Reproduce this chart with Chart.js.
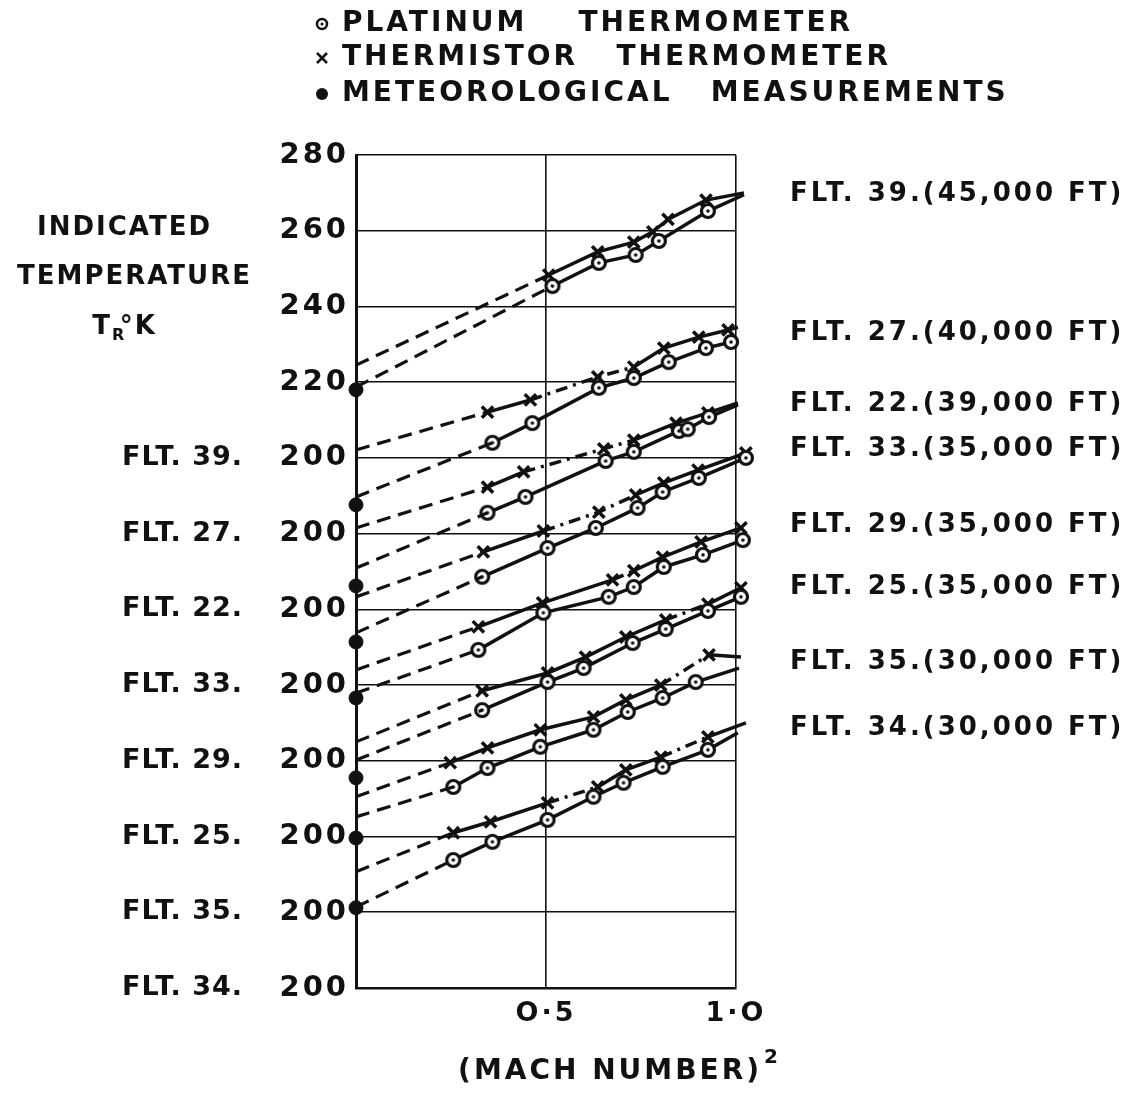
<!DOCTYPE html>
<html>
<head>
<meta charset="utf-8">
<script src="https://cdn.jsdelivr.net/npm/chart.js@4.4.1/dist/chart.umd.min.js"></script>
<style>
    html, body { margin: 0; padding: 0; background: #fff; }
    #wrap { width: 1127px; height: 1098px; }
</style>
</head>
<body>
<div id="wrap"><canvas id="chart" width="1127" height="1098"></canvas></div>
<script>
// Flights, top to bottom. Each flight's own 200 °K sits on a shifted grid line.
const flights   = ['39', '27', '22', '33', '29', '25', '35', '34'];
const altitudes = ['45,000', '40,000', '39,000', '35,000', '35,000', '35,000', '30,000', '30,000'];
const baseValues = [200, 180, 160, 140, 120, 100, 80, 60];

// Meteorological temperature and the extrapolated intercepts at (Mach)^2 = 0, °K
const metT       = [218.0, 207.6, 206.2, 211.4, 216.6, 215.5, 219.6, 221.2];
const platZeroT  = [218.7, 209.7, 210.9, 213.8, 217.9, 220.2, 225.2, 221.4];
const thermZeroT = [224.5, 222.1, 221.5, 223.3, 224.0, 225.0, 230.5, 230.7];

// Platinum thermometer readings
const platX = [
    [0.517, 0.639, 0.736, 0.797, 0.926],
    [0.359, 0.464, 0.639, 0.731, 0.823, 0.921, 0.987],
    [0.346, 0.446, 0.657, 0.731, 0.850, 0.873, 0.929],
    [0.332, 0.504, 0.631, 0.741, 0.807, 0.902, 1.026],
    [0.322, 0.493, 0.665, 0.731, 0.810, 0.913, 1.018],
    [0.332, 0.504, 0.599, 0.728, 0.815, 0.926, 1.013],
    [0.256, 0.346, 0.485, 0.625, 0.715, 0.807, 0.894],
    [0.256, 0.359, 0.504, 0.625, 0.704, 0.807, 0.926]
];
const platT = [
    [245.4, 251.5, 253.6, 257.3, 265.2],
    [224.0, 229.2, 238.5, 241.1, 245.3, 249.0, 250.6],
    [225.5, 229.7, 239.2, 241.6, 247.1, 247.6, 250.8],
    [228.6, 236.2, 241.5, 246.8, 251.0, 254.7, 260.0],
    [229.3, 239.1, 243.3, 245.9, 251.2, 254.4, 258.3],
    [233.4, 240.8, 244.5, 251.1, 254.8, 259.6, 263.3],
    [233.1, 238.1, 243.7, 248.2, 252.9, 256.6, 260.8],
    [233.8, 238.6, 244.4, 250.5, 254.2, 258.4, 262.9]
];
const platEnd = [[1.021, 269.5], [1.005, 251.5], [1.005, 254.0], [1.040, 260.8],
                 [1.098, 261.5], [1.030, 264.5], [1.008, 264.5], [1.005, 267.4]];

// Thermistor thermometer readings
const thermX = [
    [0.507, 0.636, 0.731, 0.781, 0.821, 0.921],
    [0.346, 0.459, 0.636, 0.731, 0.810, 0.902, 0.979],
    [0.346, 0.441, 0.652, 0.731, 0.842, 0.926],
    [0.335, 0.493, 0.639, 0.736, 0.810, 0.900, 1.026],
    [0.322, 0.491, 0.675, 0.731, 0.807, 0.908, 1.013],
    [0.332, 0.504, 0.604, 0.710, 0.815, 0.926, 1.013],
    [0.248, 0.346, 0.485, 0.625, 0.710, 0.802, 0.929],
    [0.256, 0.354, 0.504, 0.636, 0.710, 0.802, 0.926]
];
const thermT = [
    [248.3, 254.4, 257.0, 259.7, 263.0, 268.1],
    [232.1, 235.3, 241.4, 244.0, 249.0, 251.9, 253.8],
    [232.3, 236.3, 242.4, 244.7, 249.2, 251.9],
    [235.2, 240.7, 245.7, 250.2, 253.4, 256.8, 261.3],
    [235.4, 241.7, 247.8, 250.2, 253.8, 257.8, 261.5],
    [238.5, 243.2, 247.4, 252.7, 257.2, 261.4, 265.7],
    [239.5, 243.4, 248.2, 251.6, 256.1, 260.0, 268.0],
    [241.0, 243.9, 248.9, 253.1, 257.6, 261.0, 266.3]
];
const thermEnd = [[1.021, 270.0], [1.005, 254.5], [1.005, 254.5], [1.111, 264.0],
                  [1.087, 263.1], [1.084, 267.0], [1.013, 267.4], [1.026, 270.0]];

// Segments of the thermistor curves drawn chain-dotted
const thermDotSegs = [[], [1, 2], [1, 2], [1, 2], [2], [4], [5], [2, 5]];

// Axes
const yTickValues = [280, 260, 240, 220, 200, 180, 160, 140, 120, 100, 80, 60];
const yTickLabels = ['280', '260', '240', '220', '200', '200', '200', '200', '200', '200', '200', '200'];
const xTickValues = [0, 0.5, 1.0];
const xTickLabels = ['', 'O·5', '1·O'];
const legendItems = ['PLATINUM    THERMOMETER', 'THERMISTOR   THERMOMETER', 'METEOROLOGICAL   MEASUREMENTS'];

const ink = '#111';
const family = '"DejaVu Sans", "Liberation Sans", sans-serif';

function makeRing(r) {
    const c = document.createElement('canvas');
    c.width = c.height = 2 * r + 7;
    const g = c.getContext('2d');
    const m = c.width / 2;
    g.beginPath();
    g.arc(m, m, r, 0, Math.PI * 2);
    g.fillStyle = '#fff';
    g.fill();
    g.lineWidth = 3.2;
    g.strokeStyle = ink;
    g.stroke();
    g.beginPath();
    g.arc(m, m, 1.8, 0, Math.PI * 2);
    g.fillStyle = ink;
    g.fill();
    return c;
}
const ring = makeRing(6.5);

const datasets = [];
flights.forEach((f, i) => {
    const shift = baseValues[i] - 200;
    const pt = (x, t) => ({ x: x, y: t + shift });
    const common = {
        type: 'scatter', showLine: true, clip: false,
        borderColor: ink, backgroundColor: ink, borderWidth: 3.5, tension: 0
    };

    // dashed extrapolations back to (Mach)^2 = 0
    datasets.push(Object.assign({}, common, {
        label: 'FLT ' + f + ' platinum extrapolation',
        data: [pt(0, platZeroT[i]), pt(platX[i][0], platT[i][0])],
        borderDash: [14, 8], borderWidth: 3.2, pointRadius: 0
    }));
    datasets.push(Object.assign({}, common, {
        label: 'FLT ' + f + ' thermistor extrapolation',
        data: [pt(0, thermZeroT[i]), pt(thermX[i][0], thermT[i][0])],
        borderDash: [14, 8], borderWidth: 3.2, pointRadius: 0
    }));

    // platinum
    const pData = platX[i].map((x, k) => pt(x, platT[i][k]));
    pData.push(pt(platEnd[i][0], platEnd[i][1]));
    datasets.push(Object.assign({}, common, {
        label: 'FLT ' + f + ' platinum',
        data: pData,
        pointStyle: ring,
        pointRadius: pData.map((_, k) => k < platX[i].length ? 7 : 0)
    }));

    // thermistor
    const tData = thermX[i].map((x, k) => pt(x, thermT[i][k]));
    tData.push(pt(thermEnd[i][0], thermEnd[i][1]));
    datasets.push(Object.assign({}, common, {
        label: 'FLT ' + f + ' thermistor',
        data: tData,
        pointStyle: 'crossRot',
        pointBorderWidth: 3.5,
        pointRadius: tData.map((_, k) => k < thermX[i].length ? 8 : 0),
        segment: {
            borderDash: ctx => thermDotSegs[i].includes(ctx.p0DataIndex) ? [12, 6, 3, 6] : undefined
        }
    }));

    // meteorological
    datasets.push({
        type: 'scatter', clip: false,
        label: 'FLT ' + f + ' meteorological',
        data: [pt(0, metT[i])],
        pointStyle: 'circle', pointRadius: 7,
        backgroundColor: ink, borderColor: ink, borderWidth: 1
    });
});

const figureText = {
    id: 'figureText',
    beforeDraw(chart) {
        chart.ctx.letterSpacing = '3px';
    },
    afterDraw(chart) {
        const { ctx, chartArea, scales } = chart;
        const y = scales.y;
        ctx.save();
        ctx.fillStyle = ink;
        ctx.strokeStyle = ink;
        ctx.textBaseline = 'middle';
        ctx.font = 'bold 27px ' + family;

        // Flight names next to the shifted 200 labels
        ctx.letterSpacing = '1px';
        ctx.textAlign = 'left';
        flights.forEach((f, i) => {
            ctx.fillText('FLT. ' + f + '.', 122, y.getPixelForValue(baseValues[i]));
        });

        // Flight / altitude labels at the end of each curve
        ctx.font = 'bold 26px ' + family;
        ctx.letterSpacing = '3px';
        flights.forEach((f, i) => {
            const shift = baseValues[i] - 200;
            const yy = (y.getPixelForValue(thermEnd[i][1] + shift) + y.getPixelForValue(platEnd[i][1] + shift)) / 2;
            ctx.fillText('FLT. ' + f + '.(' + altitudes[i] + ' FT)', chartArea.right + 54, yy);
        });

        // Y axis title
        ctx.letterSpacing = '2px';
        ctx.textAlign = 'right';
        ctx.fillText('INDICATED', 212, 228);
        ctx.fillText('TEMPERATURE', 252, 277);
        ctx.fillText('°K', 157, 327);
        ctx.fillText('T', 112, 327);
        ctx.font = 'bold 16px ' + family;
        ctx.textAlign = 'left';
        ctx.fillText('R', 112, 336);

        // X axis title, with a raised 2
        ctx.font = 'bold 28px ' + family;
        ctx.letterSpacing = '3px';
        ctx.textAlign = 'right';
        ctx.fillText('(MACH NUMBER)', 762, 1072);
        ctx.font = 'bold 20px ' + family;
        ctx.textAlign = 'left';
        ctx.fillText('2', 764, 1058);

        // Legend
        ctx.font = 'bold 28px ' + family;
        ctx.letterSpacing = '3px';
        ctx.textAlign = 'left';
        const rows = [24, 58, 94];
        const mx = 322;
        legendItems.forEach((txt, k) => {
            const ly = rows[k];
            ctx.fillText(txt, mx + 20, ly);
            ctx.lineWidth = 2.5;
            if (k === 0) {
                ctx.beginPath(); ctx.arc(mx, ly, 5, 0, Math.PI * 2); ctx.stroke();
                ctx.beginPath(); ctx.arc(mx, ly, 1.5, 0, Math.PI * 2); ctx.fill();
            } else if (k === 1) {
                ctx.beginPath();
                ctx.moveTo(mx - 5, ly - 5); ctx.lineTo(mx + 5, ly + 5);
                ctx.moveTo(mx + 5, ly - 5); ctx.lineTo(mx - 5, ly + 5);
                ctx.stroke();
            } else {
                ctx.beginPath(); ctx.arc(mx, ly, 6, 0, Math.PI * 2); ctx.fill();
            }
        });
        ctx.restore();
    }
};

new Chart(document.getElementById('chart'), {
    type: 'scatter',
    data: { datasets: datasets },
    options: {
        responsive: false,
        animation: false,
        devicePixelRatio: 1,
        events: [],
        layout: { padding: { top: 155, right: 391, bottom: 60, left: 0 } },
        plugins: {
            legend: { display: false },
            tooltip: { enabled: false }
        },
        scales: {
            x: {
                type: 'linear', min: 0, max: 1,
                afterBuildTicks: s => { s.ticks = xTickValues.map(v => ({ value: v })); },
                afterFit: s => { s.height = 50; },
                ticks: {
                    autoSkip: false, maxRotation: 0, padding: 10, color: ink,
                    font: { family: family, size: 27, weight: 'bold' },
                    callback: v => xTickLabels[xTickValues.indexOf(v)]
                },
                grid: { color: ink, lineWidth: 1.6, drawTicks: false },
                border: { color: ink, width: 2.5 }
            },
            y: {
                type: 'linear', min: 60, max: 280,
                afterBuildTicks: s => { s.ticks = yTickValues.map(v => ({ value: v })); },
                afterFit: s => { s.width = 356; },
                ticks: {
                    autoSkip: false, padding: 7, color: ink,
                    font: { family: family, size: 29, weight: 'bold' },
                    callback: v => yTickLabels[yTickValues.indexOf(v)]
                },
                grid: { color: ink, lineWidth: 1.6, drawTicks: false },
                border: { color: ink, width: 3 }
            }
        }
    },
    plugins: [figureText]
});
</script>
</body>
</html>
